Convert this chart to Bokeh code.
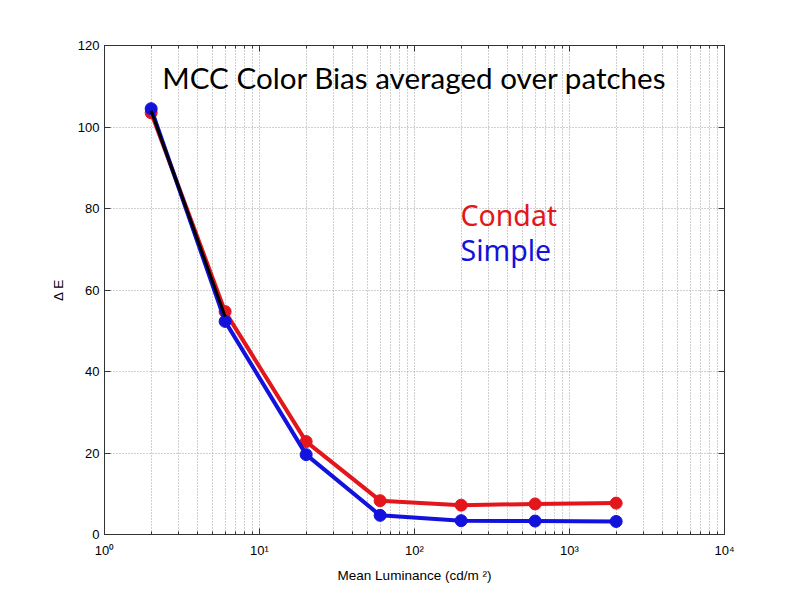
from bokeh.plotting import figure
from bokeh.models import Label, LinearAxis, LogAxis, FixedTicker
from bokeh.embed import file_html
from bokeh.resources import INLINE

# Data
luminance = [2, 6, 20, 60, 200, 600, 2000]
condat = [103.5, 54.7, 22.8, 8.3, 7.2, 7.5, 7.7]
simple = [104.5, 52.3, 19.6, 4.7, 3.4, 3.3, 3.2]
black_x = [2, 6]
black_y = [104.0, 53.5]
x_ticks = [1, 10, 100, 1000, 10000]
x_tick_labels = ["10\u2070", "10\u00b9", "10\u00b2", "10\u00b3", "10\u2074"]
y_ticks = [0, 20, 40, 60, 80, 100, 120]
title_text = "MCC Color Bias averaged over patches"
series_names = ["Condat", "Simple"]

RED = "#e3161b"
BLUE = "#1212dc"
FONT = "Liberation Sans"
MINOR = [m * d for d in [1, 10, 100, 1000] for m in range(2, 10)]

p = figure(width=800, height=600, x_axis_type="log", x_range=(1, 10000), y_range=(0, 120),
           output_backend="svg", toolbar_location=None,
           min_border_left=104, min_border_right=76, min_border_top=45, min_border_bottom=66)
p.background_fill_color = "white"
p.border_fill_color = "white"
p.outline_line_color = "#333333"
p.outline_line_width = 1

# Grid
p.xgrid.grid_line_color = "#a0a0a0"
p.xgrid.grid_line_dash = "1 2"
p.xgrid.minor_grid_line_color = "#a0a0a0"
p.xgrid.minor_grid_line_dash = "1 2"
p.ygrid.grid_line_color = "#a0a0a0"
p.ygrid.grid_line_dash = "1 2"

# Axes
xa = p.xaxis[0]
xa.ticker = FixedTicker(ticks=x_ticks, minor_ticks=MINOR)
xa.major_label_overrides = {t: l for t, l in zip(x_ticks, x_tick_labels)}
ya = p.yaxis[0]
ya.ticker = FixedTicker(ticks=y_ticks)
for ax in (xa, ya):
    ax.axis_line_color = "#333333"
    ax.major_tick_in = 6
    ax.major_tick_out = 0
    ax.minor_tick_in = 3
    ax.minor_tick_out = 0
    ax.major_tick_line_color = "#333333"
    ax.minor_tick_line_color = "#333333"
    ax.major_label_text_font = FONT
    ax.major_label_text_font_size = "13px"
    ax.major_label_text_color = "black"
    ax.axis_label_text_font = FONT
    ax.axis_label_text_font_size = "13.5px"
    ax.axis_label_text_font_style = "normal"
    ax.axis_label_text_color = "black"
xa.major_label_standoff = 8
ya.major_label_standoff = 5
xa.axis_label = "Mean Luminance (cd/m \u00b2)"
ya.axis_label = "\u0394 E"
xa.axis_label_standoff = 7
ya.axis_label_standoff = 9

top = LogAxis(ticker=FixedTicker(ticks=x_ticks, minor_ticks=MINOR),
              major_label_text_font_size="2px", major_label_text_alpha=0.0,
              major_tick_in=6, major_tick_out=0,
              minor_tick_in=3, minor_tick_out=0, axis_line_color="#333333",
              major_tick_line_color="#333333", minor_tick_line_color="#333333")
right = LinearAxis(ticker=FixedTicker(ticks=y_ticks),
                   major_label_text_font_size="2px", major_label_text_alpha=0.0,
                   major_tick_in=6, major_tick_out=0, minor_tick_in=0, minor_tick_out=0,
                   axis_line_color="#333333", major_tick_line_color="#333333")
p.add_layout(top, "above")
p.add_layout(right, "right")

# Series
p.line(luminance, condat, line_color=RED, line_width=4)
p.scatter(luminance, condat, size=12, fill_color=RED, line_color=RED)
p.line(luminance, simple, line_color=BLUE, line_width=4)
p.scatter(luminance, simple, size=12, fill_color=BLUE, line_color=BLUE)
p.line(black_x, black_y, line_color="black", line_width=3)

# Annotations
p.add_layout(Label(x=100, y=112.2, text=title_text, text_align="center", text_baseline="alphabetic",
                   text_font="Lato", text_font_size="29.6px", text_color="black"))
p.add_layout(Label(x=198, y=78.5, text=series_names[0], text_align="left", text_baseline="alphabetic",
                   text_font="Noto Sans", text_font_size="28.5px", text_color=RED))
p.add_layout(Label(x=198, y=69.9, text=series_names[1], text_align="left", text_baseline="alphabetic",
                   text_font="Noto Sans", text_font_size="28.5px", text_color=BLUE))

open("out.html", "w").write(file_html(p, INLINE))
